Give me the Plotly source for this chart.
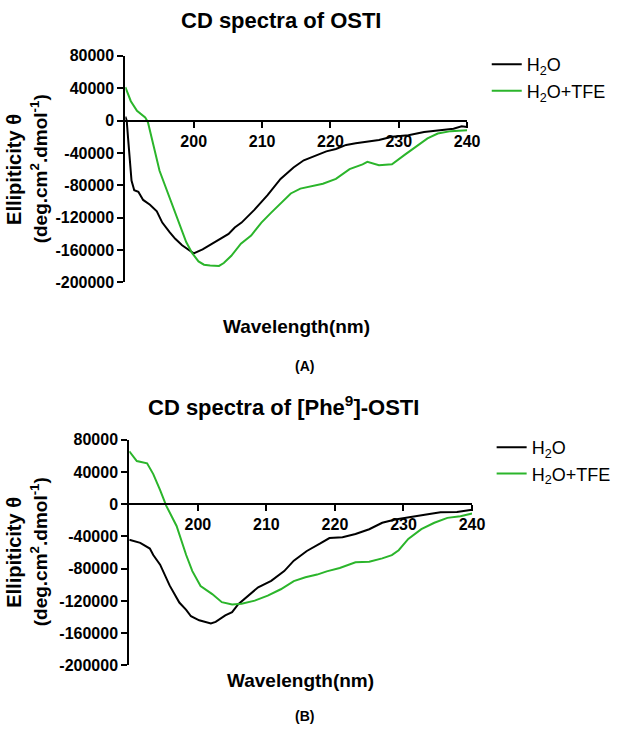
import plotly.graph_objects as go

# ---------------- data ----------------
# Panel A: OSTI
a_h2o_x = [190.0, 190.2, 190.4, 190.9, 191.3, 191.9, 192.6, 193.6, 194.6, 195.4, 196.5, 197.3, 198.3, 199.2,
           200.0, 201.3, 202.1, 203.2, 204.0, 205.1, 206.0, 207.0, 208.9, 210.8, 212.7, 214.6, 216.1, 217.5,
           219.4, 220.8, 222.3, 223.7, 225.1, 227.1, 229.0, 231.4, 233.7, 236.1, 238.0, 239.2, 240.0]
a_h2o_y = [5000, 0, -22000, -74000, -86000, -88000, -98000, -104000, -112000, -126000, -138000, -146000,
           -154000, -159000, -164000, -159000, -155000, -150000, -146000, -140000, -132000, -126000, -110000,
           -92000, -72000, -58000, -49000, -44000, -38000, -35000, -30000, -28000, -26000, -24000, -20000,
           -18000, -14000, -12000, -10000, -7000, -8000]

a_tfe_x = [190.0, 190.8, 191.7, 192.9, 193.3, 193.5, 194.1, 195.0, 195.9, 197.0, 197.8, 198.9, 199.8, 200.7,
           201.5, 202.4, 203.7, 204.4, 205.5, 206.9, 208.4, 209.9, 211.3, 212.7, 214.2, 215.6, 217.5, 218.9,
           220.8, 222.8, 224.7, 225.4, 227.1, 229.0, 230.9, 232.8, 234.2, 235.7, 237.6, 240.0]
a_tfe_y = [41300, 24000, 12000, 4000, -2000, -10000, -30000, -62000, -82000, -106000, -126000, -150000,
           -164000, -174000, -178000, -179000, -179500, -176000, -167000, -152000, -142000, -126000, -114000,
           -102000, -90000, -84000, -80000, -78000, -72000, -60000, -54000, -51000, -55000, -54000, -42000,
           -30000, -22000, -16000, -13000, -12000]

# Panel B: [Phe9]-OSTI
b_h2o_x = [190.0, 191.6, 193.0, 193.5, 194.5, 195.9, 197.3, 198.3, 199.0, 200.2, 201.9, 202.6, 204.0, 205.0,
           205.9, 207.3, 208.8, 210.7, 212.6, 214.0, 215.9, 217.8, 219.2, 221.1, 223.0, 225.0, 226.9, 228.8,
           230.7, 233.1, 235.4, 237.8, 240.0]
b_h2o_y = [-44000, -48000, -55000, -63000, -75000, -101000, -122000, -131000, -139000, -144000, -148000,
           -146000, -138000, -134000, -124000, -114000, -103000, -95000, -83000, -70000, -58000, -49000,
           -42000, -41000, -37000, -31000, -23000, -19000, -16000, -13000, -10000, -9700, -6800]

b_tfe_x = [190.0, 191.1, 192.6, 193.5, 194.5, 195.4, 196.9, 198.3, 199.2, 200.4, 202.1, 203.5, 205.0, 206.4,
           208.3, 210.2, 212.1, 214.0, 215.7, 217.4, 218.8, 220.7, 223.0, 225.0, 226.9, 228.3, 229.3, 230.7,
           232.6, 234.5, 236.4, 238.3, 240.0]
b_tfe_y = [65700, 53600, 50700, 37400, 17400, -2000, -27000, -63000, -83000, -101500, -111500, -121500,
           -124400, -123600, -119600, -113500, -105500, -95400, -90600, -87300, -83300, -79200, -72000,
           -71300, -67200, -63200, -57100, -43000, -30900, -23000, -16900, -14900, -11600]

x_tick_vals = [200, 210, 220, 230, 240]
x_tick_labels = ["200", "210", "220", "230", "240"]
y_tick_vals = [80000, 40000, 0, -40000, -80000, -120000, -160000, -200000]
y_tick_labels = ["80000", "40000", "0", "-40000", "-80000", "-120000", "-160000", "-200000"]
series_names = ["H<sub>2</sub>O", "H<sub>2</sub>O+TFE"]
titles = ["CD spectra of OSTI", "CD spectra of [Phe<sup>9</sup>]-OSTI"]
panel_labels = ["(A)", "(B)"]

# ---------------- layout helpers ----------------
W, H = 630, 734
FONT = "Liberation Sans, Arial, sans-serif"
BLACK = "#000000"
GREEN = "#2bb52b"


def px(xp):
    return xp / W


def py(yp):
    return 1 - yp / H


fig = go.Figure()

traces = [
    (a_h2o_x, a_h2o_y, 0, BLACK, "x", "y", "legend"),
    (a_tfe_x, a_tfe_y, 1, GREEN, "x", "y", "legend"),
    (b_h2o_x, b_h2o_y, 0, BLACK, "x2", "y2", "legend2"),
    (b_tfe_x, b_tfe_y, 1, GREEN, "x2", "y2", "legend2"),
]
for xs, ys, k, col, xa, ya, lg in traces:
    fig.add_trace(go.Scatter(x=xs, y=ys, mode="lines", name=series_names[k],
                             line=dict(color=col, width=2), xaxis=xa, yaxis=ya,
                             legend=lg, legendgroup=lg + str(k)))

tickfont = dict(family=FONT, size=16, color=BLACK, weight="bold")
ymin, ymax = -200000, 80000
frac0 = (0 - ymin) / (ymax - ymin)

panels = [
    dict(x0=128, x1=477, y0=49, y1=281),
    dict(x0=132, x1=482, y0=442, y1=673),
]

for i, p in enumerate(panels):
    sfx = "" if i == 0 else str(i + 1)
    ydom = [py(p["y1"]), py(p["y0"])]
    xpos = ydom[0] + frac0 * (ydom[1] - ydom[0])
    fig.layout["xaxis" + sfx] = dict(
        domain=[px(p["x0"]), px(p["x1"])], range=[190, 240], anchor="free", position=xpos,
        showline=True, linecolor=BLACK, linewidth=2, ticks="outside", ticklen=6, tickwidth=2,
        tickcolor=BLACK, tickvals=x_tick_vals, ticktext=x_tick_labels, tickfont=tickfont,
        showgrid=False, zeroline=False, fixedrange=True,
    )
    fig.layout["yaxis" + sfx] = dict(
        domain=ydom, range=[ymin, ymax], anchor="x" + sfx,
        showline=True, linecolor=BLACK, linewidth=2, ticks="outside", ticklen=6, tickwidth=2,
        tickcolor=BLACK, tickvals=y_tick_vals, ticktext=y_tick_labels, tickfont=tickfont,
        showgrid=False, zeroline=False, fixedrange=True,
    )

legend_common = dict(font=dict(family=FONT, size=18, color=BLACK), bgcolor="rgba(0,0,0,0)",
                     xanchor="left", yanchor="top", itemwidth=30, tracegroupgap=0,
                     traceorder="grouped")
fig.layout.legend = dict(x=px(497), y=py(39), **legend_common)
fig.layout.legend2 = dict(x=px(502), y=py(431), **legend_common)

ann = []
bold = dict(family=FONT, color=BLACK, weight="bold")
# titles
ann.append(dict(text=titles[0], x=px(287), y=py(13), font=dict(size=22, **bold)))
ann.append(dict(text=titles[1], x=px(289), y=py(407), font=dict(size=22, **bold)))
# x axis titles
ann.append(dict(text="Wavelength(nm)", x=px(303), y=py(326), font=dict(size=19, **bold)))
ann.append(dict(text="Wavelength(nm)", x=px(307), y=py(688), font=dict(size=19, **bold)))
# panel labels
ann.append(dict(text=panel_labels[0], x=px(311), y=py(366), font=dict(size=14, **bold)))
ann.append(dict(text=panel_labels[1], x=px(311), y=py(725), font=dict(size=14, **bold)))
# y axis titles
for yc in [165, 557]:
    ann.append(dict(text="Ellipiticity θ", x=px(14), y=py(yc), textangle=-90, font=dict(size=20, **bold)))
    ann.append(dict(text="(deg.cm<sup>2</sup>.dmol<sup>-1</sup>)", x=px(40), y=py(yc), textangle=-90,
                    font=dict(size=19, **bold)))

for a in ann:
    a.update(xref="paper", yref="paper", showarrow=False, xanchor="center", yanchor="middle")

fig.update_layout(
    width=W, height=H, margin=dict(l=0, r=0, t=0, b=0),
    paper_bgcolor="white", plot_bgcolor="white",
    annotations=ann, showlegend=True,
)

fig.write_html("out.html", config={"displayModeBar": False},
               post_script="document.body.style.margin='0';document.body.style.overflow='hidden';")
